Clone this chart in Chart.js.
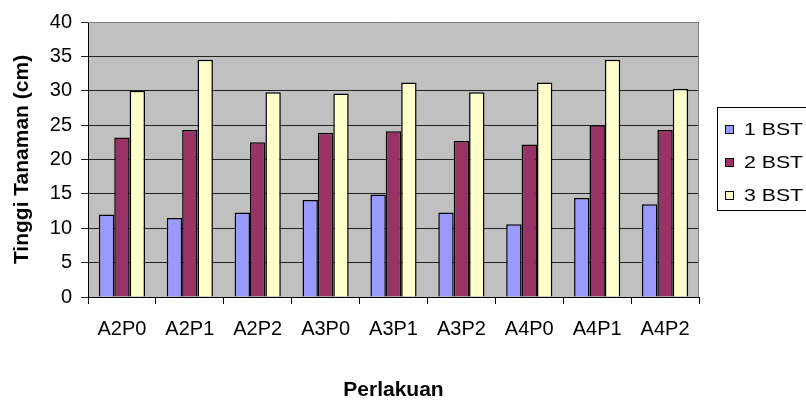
<!DOCTYPE html>
<html>
<head>
<meta charset="utf-8">
<script src="https://cdn.jsdelivr.net/npm/chart.js@4"></script>
<style>
html,body{margin:0;padding:0;background:#fff;}
#wrap{width:806px;height:401px;position:relative;}
</style>
</head>
<body>
<div id="wrap"><canvas id="c" width="806" height="401"></canvas></div>
<script>
const categories = ['A2P0','A2P1','A2P2','A3P0','A3P1','A3P2','A4P0','A4P1','A4P2'];
const bst1 = [12.0, 11.5, 12.3, 14.1, 14.9, 12.3, 10.6, 14.4, 13.5];
const bst2 = [23.2, 24.3, 22.5, 23.9, 24.1, 22.7, 22.2, 25.0, 24.3];
const bst3 = [30.0, 34.5, 29.8, 29.6, 31.2, 29.8, 31.2, 34.5, 30.3];
const seriesLabels = ['1 BST','2 BST','3 BST'];
const yTicks = [0,5,10,15,20,25,30,35,40];

const FONT = "'Liberation Sans', Arial, sans-serif";

const bgPlugin = {
  id: 'bg',
  beforeDraw(chart) {
    const {ctx, chartArea: a} = chart;
    ctx.save();
    ctx.fillStyle = '#C0C0C0';
    ctx.fillRect(a.left, a.top, a.right - a.left, a.bottom - a.top);
    ctx.restore();
  },
  afterDraw(chart) {
    const {ctx, chartArea: a} = chart;
    ctx.save();
    ctx.strokeStyle = '#808080';
    ctx.lineWidth = 1;
    ctx.beginPath();
    ctx.moveTo(a.left, a.top + 0.5);
    ctx.lineTo(a.right - 0.5, a.top + 0.5);
    ctx.lineTo(a.right - 0.5, a.bottom);
    ctx.stroke();
    // legend
    const lx = 717, ly = 107, lw = 100, lh = 103;
    ctx.fillStyle = '#fff';
    ctx.fillRect(lx, ly, lw, lh);
    ctx.strokeStyle = '#000';
    ctx.strokeRect(lx + 0.5, ly + 0.5, lw, lh);
    ctx.textBaseline = 'middle';
    chart.data.datasets.forEach((ds, i) => {
      const cy = 129 + i * 33;
      ctx.fillStyle = ds.backgroundColor;
      ctx.fillRect(725, cy - 4, 9, 9);
      ctx.strokeStyle = '#000';
      ctx.lineWidth = 1;
      ctx.strokeRect(725.5, cy - 3.5, 8, 8);
      ctx.save();
      ctx.translate(744, cy + 1);
      ctx.scale(1.25, 1);
      ctx.font = '17px ' + FONT;
      ctx.fillStyle = '#000';
      ctx.fillText(ds.label, 0, 0);
      ctx.restore();
    });
    ctx.restore();
  }
};

new Chart(document.getElementById('c'), {
  type: 'bar',
  data: {
    labels: categories,
    datasets: [
      {label: seriesLabels[0], data: bst1, backgroundColor: '#9999FF', borderColor: '#000', borderWidth: 1.5},
      {label: seriesLabels[1], data: bst2, backgroundColor: '#993366', borderColor: '#000', borderWidth: 1.5},
      {label: seriesLabels[2], data: bst3, backgroundColor: '#FFFFCC', borderColor: '#000', borderWidth: 1.5}
    ]
  },
  options: {
    responsive: false,
    animation: false,
    devicePixelRatio: 1,
    layout: {padding: {left: 0, right: 107, top: 22, bottom: 0}},
    datasets: {bar: {categoryPercentage: 0.68, barPercentage: 1.0}},
    plugins: {legend: {display: false}, tooltip: {enabled: false}},
    scales: {
      x: {
        afterFit(axis) { axis.height = 104; },
        grid: {drawOnChartArea: false, offset: true, tickLength: 7, color: '#000'},
        border: {color: '#000'},
        ticks: {color: '#000', font: {family: FONT, size: 20}, padding: 13, maxRotation: 0, autoSkip: false},
        title: {display: true, text: 'Perlakuan', color: '#000', font: {family: FONT, size: 21, weight: 'bold', lineHeight: 1}, padding: {top: 0, bottom: 0}}
      },
      y: {
        min: 0, max: 40,
        afterFit(axis) { axis.width = 88; },
        afterBuildTicks(axis) { axis.ticks = yTicks.map(v => ({value: v})); },
        grid: {color: '#222', lineWidth: 1, tickLength: 7, drawTicks: true},
        border: {color: '#000'},
        ticks: {color: '#000', font: {family: FONT, size: 20}, padding: 9},
        title: {display: true, text: 'Tinggi Tanaman (cm)', color: '#000', font: {family: FONT, size: 21, weight: 'bold', lineHeight: 1}, padding: {top: 12, bottom: 0}}
      }
    }
  },
  plugins: [bgPlugin]
});
</script>
</body>
</html>
